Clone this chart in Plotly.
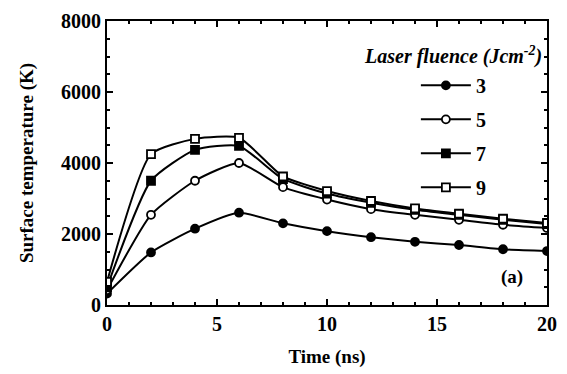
import plotly.graph_objects as go

# Time axis (ns)
time_ns = [0, 2, 4, 6, 8, 10, 12, 14, 16, 18, 20]

# Surface temperature (K) for each laser fluence (J cm^-2)
temp_f3 = [320, 1480, 2150, 2600, 2300, 2080, 1910, 1780, 1690, 1570, 1520]
temp_f5 = [420, 2540, 3500, 4000, 3320, 2970, 2700, 2540, 2400, 2260, 2170]
temp_f7 = [500, 3500, 4370, 4480, 3550, 3140, 2880, 2680, 2540, 2400, 2280]
temp_f9 = [650, 4250, 4680, 4710, 3620, 3210, 2930, 2720, 2570, 2430, 2310]

fluence_labels = ["3", "5", "7", "9"]
series = [temp_f3, temp_f5, temp_f7, temp_f9]
symbols = ["circle", "circle", "square", "square"]
fills = ["black", "white", "black", "white"]

FONT = "Liberation Serif"

fig = go.Figure()
for lab, ys, sym, fc in zip(fluence_labels, series, symbols, fills):
    fig.add_trace(go.Scatter(
        x=time_ns, y=ys, name=lab, legendgroup=lab, mode="lines+markers",
        line=dict(color="black", width=2, shape="spline", smoothing=0.55),
        marker=dict(symbol=sym, size=8, color=fc, line=dict(color="black", width=1.8)),
    ))

# Panel label and legend heading
fig.add_annotation(x=18.4, y=800, text="<b>(a)</b>", showarrow=False,
                   font=dict(family=FONT, size=19, color="black"))
fig.add_annotation(x=0.993, y=0.879, xref="paper", yref="paper",
                   xanchor="right", yanchor="middle", showarrow=False,
                   text="<b><i>Laser fluence (Jcm<sup>-2</sup>)</i></b>",
                   font=dict(family=FONT, size=20, color="black"))

axis_common = dict(
    showgrid=False, zeroline=False, showline=True, linecolor="black", linewidth=2,
    mirror="allticks", ticks="inside", ticklen=6, tickwidth=2, tickcolor="black",
    tickfont=dict(family=FONT, size=20, color="black", weight="bold"),
)

fig.update_layout(
    width=567, height=374,
    margin=dict(l=107, r=10, t=19, b=66),
    paper_bgcolor="white", plot_bgcolor="white",
    xaxis=dict(range=[0, 20], dtick=5, **axis_common,
               minor=dict(dtick=1, ticks="inside", ticklen=3, tickcolor="black", tickwidth=1.5),
               title=dict(text="<b>Time (ns)</b>", font=dict(family=FONT, size=19, color="black"),
                          standoff=16)),
    yaxis=dict(range=[0, 8000], dtick=2000, **axis_common,
               minor=dict(dtick=500, ticks="inside", ticklen=3, tickcolor="black", tickwidth=1.5),
               title=dict(text="<b>Surface temperature (K)</b>",
                          font=dict(family=FONT, size=19, color="black"), standoff=22)),
    legend=dict(
        x=0.702, y=0.842, xanchor="left", yanchor="top",
        bgcolor="rgba(0,0,0,0)",
        font=dict(family=FONT, size=20, color="black", weight="bold"),
        itemwidth=50, tracegroupgap=5,
    ),
)

fig.write_html("out.html")
